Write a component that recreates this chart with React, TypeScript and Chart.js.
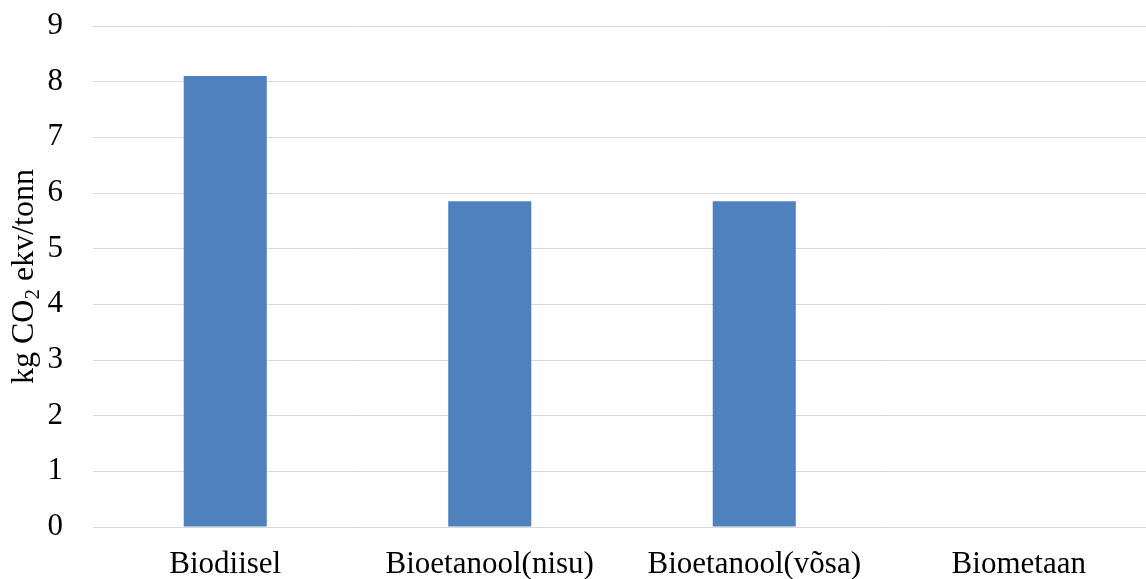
import React, { useEffect, useRef } from "react";
import { Chart, registerables } from "chart.js";

Chart.register(...registerables);

const categories = ["Biodiisel", "Bioetanool(nisu)", "Bioetanool(võsa)", "Biometaan"];
const emissions = [8.1, 5.85, 5.85, 0];
const titleParts = ["kg CO", "2", " ekv/tonn"];

const FONT = "'Liberation Serif', 'Times New Roman', serif";

// Rotated y-axis title with a subscript "2"
const axisTitlePlugin = {
  id: "axisTitle",
  afterDraw(chart: any) {
    const { ctx, chartArea } = chart;
    const big = `32px ${FONT}`;
    const small = `21px ${FONT}`;
    ctx.save();
    ctx.fillStyle = "#000";
    ctx.textBaseline = "alphabetic";
    ctx.textAlign = "left";
    ctx.font = big;
    const w0 = ctx.measureText(titleParts[0]).width;
    const w2 = ctx.measureText(titleParts[2]).width;
    ctx.font = small;
    const w1 = ctx.measureText(titleParts[1]).width;
    const total = w0 + w1 + w2;
    const cy = (chartArea.top + chartArea.bottom) / 2;
    ctx.translate(33, cy);
    ctx.rotate(-Math.PI / 2);
    let x = -total / 2;
    ctx.font = big;
    ctx.fillText(titleParts[0], x, 0);
    x += w0;
    ctx.font = small;
    ctx.fillText(titleParts[1], x, 6);
    x += w1;
    ctx.font = big;
    ctx.fillText(titleParts[2], x, 0);
    ctx.restore();
  },
};

export default function App() {
  const ref = useRef<HTMLCanvasElement>(null);

  useEffect(() => {
    if (!ref.current) return;
    const chart = new Chart(ref.current, {
      type: "bar",
      data: {
        labels: categories,
        datasets: [
          {
            data: emissions,
            backgroundColor: "#4f81bd",
            categoryPercentage: 1,
            barPercentage: 0.314,
          },
        ],
      },
      options: {
        animation: false,
        responsive: false,
        layout: { padding: { top: 26, right: 0, left: 0, bottom: 0 } },
        plugins: { legend: { display: false }, tooltip: { enabled: false } },
        scales: {
          x: {
            grid: { display: false, drawTicks: false },
            border: { display: false },
            ticks: { color: "#000", font: { family: FONT, size: 31 }, padding: 19, maxRotation: 0 },
            afterFit(scale: any) {
              scale.height = 52;
              scale.paddingLeft = 0;
              scale.paddingRight = 0;
            },
          },
          y: {
            min: 0,
            max: 9,
            ticks: { stepSize: 1, color: "#000", font: { family: FONT, size: 31 }, padding: 30 },
            grid: { color: "#d9d9d9", lineWidth: 1, drawTicks: false },
            border: { display: false },
            afterFit(scale: any) {
              scale.width = 93;
              scale.paddingTop = 0;
              scale.paddingBottom = 0;
            },
          },
        },
      },
      plugins: [axisTitlePlugin],
    });
    return () => chart.destroy();
  }, []);

  return (
    <div
      style={{
        position: "fixed",
        left: 0,
        top: 0,
        width: 1146,
        height: 579,
        overflow: "hidden",
        background: "#fff",
      }}
    >
      <canvas ref={ref} width={1151} height={579} style={{ display: "block" }} />
    </div>
  );
}
